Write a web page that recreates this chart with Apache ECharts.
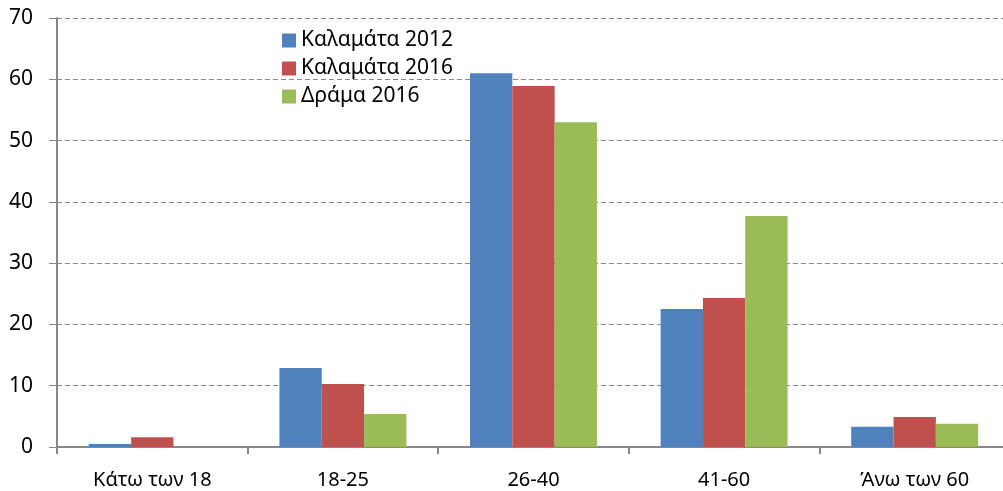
<!DOCTYPE html>
<html>
<head>
<meta charset="utf-8">
<script src="https://cdn.jsdelivr.net/npm/echarts@6/dist/echarts.min.js"></script>
<style>
  html, body { margin: 0; padding: 0; background: #fff; }
  #main { width: 1003px; height: 491px; }
</style>
</head>
<body>
<div id="main"></div>
<script>
var categories = ['Κάτω των 18', '18-25', '26-40', '41-60', 'Άνω των 60'];
var kalamata2012 = [0.5, 12.9, 61.0, 22.5, 3.3];
var kalamata2016 = [1.6, 10.3, 58.9, 24.3, 4.9];
var drama2016 = [0, 5.4, 53.0, 37.7, 3.8];

var myChart = echarts.init(document.getElementById('main'));
var font = '"Noto Sans", "Open Sans", sans-serif';
var option = {
  animation: false,
  textStyle: { fontFamily: font },
  grid: { left: 57, width: 953, top: 18, bottom: 44, outerBoundsMode: 'none' },
  legend: {
    orient: 'vertical',
    left: 282,
    top: 30,
    padding: 0,
    itemWidth: 14,
    itemHeight: 14,
    itemGap: 7,
    icon: 'rect',
    textStyle: { fontSize: 21, lineHeight: 20, color: '#000', fontFamily: font }
  },
  xAxis: {
    type: 'category',
    data: categories,
    axisLine: { lineStyle: { color: '#888', width: 2 } },
    axisTick: { show: true, length: 7, lineStyle: { color: '#888', width: 2 } },
    axisLabel: { fontSize: 20, color: '#000', margin: 23 }
  },
  yAxis: {
    type: 'value',
    min: 0,
    max: 70,
    interval: 10,
    axisLine: { show: true, lineStyle: { color: '#888', width: 2 } },
    axisTick: { show: true, length: 8, lineStyle: { color: '#888' } },
    axisLabel: { fontSize: 21, color: '#000', margin: 24 },
    splitLine: { lineStyle: { color: '#888', type: [5, 3], width: 1.2 } }
  },
  series: [
    { name: 'Καλαμάτα 2012', type: 'bar', data: kalamata2012, itemStyle: { color: '#4F81BD' },
      barGap: '0%', barCategoryGap: '33.4%' },
    { name: 'Καλαμάτα 2016', type: 'bar', data: kalamata2016, itemStyle: { color: '#C0504D' } },
    { name: 'Δράμα 2016', type: 'bar', data: drama2016, itemStyle: { color: '#9BBB59' } }
  ]
};
myChart.setOption(option);
</script>
</body>
</html>
